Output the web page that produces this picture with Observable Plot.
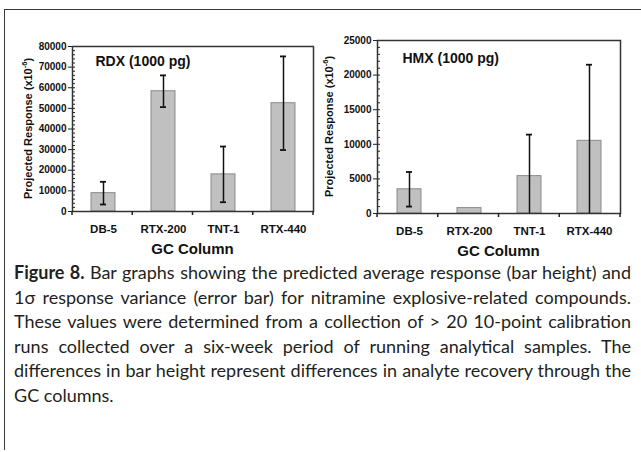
<!DOCTYPE html>
<html>
<head>
<meta charset="utf-8">
<script src="https://cdn.jsdelivr.net/npm/d3@7"></script>
<script src="https://cdn.jsdelivr.net/npm/@observablehq/plot@0.6"></script>
<style>
  html, body { margin: 0; padding: 0; background: #fff; }
  body { width: 641px; height: 452px; position: relative; overflow: hidden; font-family: "Liberation Sans", Arial, sans-serif; }
  #border { position: absolute; left: 4px; top: 9px; width: 636px; height: 440px; border-top: 1.5px solid #3a3a3a; border-left: 1.5px solid #3a3a3a; }
  #left { position: absolute; left: 0; top: 0; }
  #right { position: absolute; left: 325px; top: 0; }
  #caption { position: absolute; left: 14px; top: 260px; width: 617px; font-family: Lato, "Open Sans", sans-serif; font-size: 18px; color: #231f20; }
  #caption div { height: 24.6px; line-height: 24.6px; text-align: justify; text-align-last: justify; }
  #caption div.last { text-align-last: left; text-align: left; }
  svg text { font-family: "Liberation Sans", Arial, sans-serif; }
</style>
</head>
<body>
<div id="border"></div>
<div id="left"></div>
<div id="right"></div>
<div id="caption"></div>
<script>
const columns = ["DB-5", "RTX-200", "TNT-1", "RTX-440"];
const rdxMean = [8900, 58300, 18000, 52500];
const rdxSd = [5500, 7700, 13500, 22700];
const hmxMean = [3500, 780, 5400, 10500];
const hmxSd = [2500, 0, 6000, 11000];
const rdxMajorTicks = [0, 10000, 20000, 30000, 40000, 50000, 60000, 70000, 80000];
const rdxMinorStep = 2000;
const hmxMajorTicks = [0, 5000, 10000, 15000, 20000, 25000];
const hmxMinorStep = 1000;
const rdxTitle = "RDX (1000 pg)";
const hmxTitle = "HMX (1000 pg)";
const yTitle = "Projected Response (x10";
const yTitleSup = "-6";
const xTitle = "GC Column";
const captionBold = "Figure 8.";
const captionLines = [
  " Bar graphs showing the predicted average response (bar height) and",
  "1σ response variance (error bar) for nitramine explosive-related compounds.",
  "These values were determined from a collection of > 20 10-point calibration",
  "runs collected over a six-week period of running analytical samples. The",
  "differences in bar height represent differences in analyte recovery through the",
  "GC columns."
];

function makeChart({mean, sd, majorTicks, minorStep, title, width, height, ml, mr, mt, mb, titleX, titleY, yTitleX}) {
  const data = columns.map((c, i) => ({col: c, mean: mean[i], sd: sd[i]}));
  const errs = data.filter(d => d.sd > 0);
  const ymax = majorTicks[majorTicks.length - 1];
  const minor = d3.range(0, ymax + 1, minorStep);
  const chart = Plot.plot({
    width, height,
    marginLeft: ml, marginRight: mr, marginTop: mt, marginBottom: mb,
    style: {fontFamily: "Liberation Sans, Arial, sans-serif", background: "transparent", overflow: "visible"},
    x: {domain: columns, paddingInner: 0.6, paddingOuter: 0.3, label: null},
    y: {domain: [0, ymax], label: null},
    marks: [
      Plot.barY(data, {x: "col", y: "mean", fill: "#c0c0c0", stroke: "#8a8a8a", strokeWidth: 1}),
      Plot.ruleX(errs, {x: "col", y1: d => d.mean - d.sd, y2: d => d.mean + d.sd, stroke: "#111", strokeWidth: 1.5, clip: true}),
      Plot.tickY(errs, {x: "col", y: d => d.mean + d.sd, stroke: "#111", strokeWidth: 1.8, inset: 9, clip: true}),
      Plot.tickY(errs, {x: "col", y: d => d.mean - d.sd, stroke: "#111", strokeWidth: 1.8, inset: 9, clip: true}),
      Plot.axisY(minor, {tickSize: -3, tickFormat: () => "", stroke: "#222"}),
      Plot.axisY(majorTicks, {tickSize: 4, tickPadding: 2, tickFormat: d => String(d), fontWeight: "bold", fontSize: 10, fill: "#111", stroke: "#222"}),
      Plot.axisX({tickSize: 0, tickPadding: 13, fontWeight: "bold", fontSize: 11.5, fill: "#111"}),
      Plot.frame({stroke: "#333", strokeWidth: 1.5}),
      Plot.text([title], {frameAnchor: "top-left", dx: titleX, dy: titleY, text: d => d, fontWeight: "bold", fontSize: 14, textAnchor: "start", lineAnchor: "top", fill: "#111"})
    ]
  });
  const svg = d3.select(chart);
  const xs = chart.scale("x");
  const r0 = xs.range[0], r1 = xs.range[1];
  const step = (r1 - r0) / columns.length;
  const y0 = height - mb;
  svg.append("g").selectAll("line").data(d3.range(columns.length + 1)).join("line")
    .attr("x1", i => r0 + i * step).attr("x2", i => r0 + i * step)
    .attr("y1", y0).attr("y2", y0 + 4)
    .attr("stroke", "#222").attr("stroke-width", 1.5);
  const cy = (mt + y0) / 2;
  const t = svg.append("text")
    .attr("transform", `translate(${yTitleX},${cy}) rotate(-90)`)
    .attr("text-anchor", "middle")
    .attr("font-weight", "bold").attr("font-size", 11).attr("fill", "#111")
    .attr("dominant-baseline", "middle");
  t.append("tspan").text(yTitle);
  t.append("tspan").attr("font-size", 7.5).attr("dy", -4).text(yTitleSup);
  t.append("tspan").attr("dy", 4).text(")");
  svg.append("text")
    .attr("x", (r0 + r1) / 2).attr("y", y0 + 39)
    .attr("text-anchor", "middle").attr("dominant-baseline", "middle")
    .attr("font-weight", "bold").attr("font-size", 15).attr("fill", "#111")
    .text(xTitle);
  return chart;
}

document.getElementById("left").appendChild(makeChart({
  mean: rdxMean, sd: rdxSd, majorTicks: rdxMajorTicks, minorStep: rdxMinorStep, title: rdxTitle,
  width: 325, height: 262, ml: 72, mr: 12, mt: 46, mb: 51, titleX: 23, titleY: 10, yTitleX: 29
}));
document.getElementById("right").appendChild(makeChart({
  mean: hmxMean, sd: hmxSd, majorTicks: hmxMajorTicks, minorStep: hmxMinorStep, title: hmxTitle,
  width: 316, height: 262, ml: 52, mr: 21, mt: 40, mb: 49, titleX: 25, titleY: 13, yTitleX: 5
}));

const cap = d3.select("#caption");
captionLines.forEach((line, i) => {
  const div = cap.append("div").attr("class", i === captionLines.length - 1 ? "last" : null);
  if (i === 0) div.append("b").text(captionBold);
  div.append("span").text(line);
});
</script>
</body>
</html>
